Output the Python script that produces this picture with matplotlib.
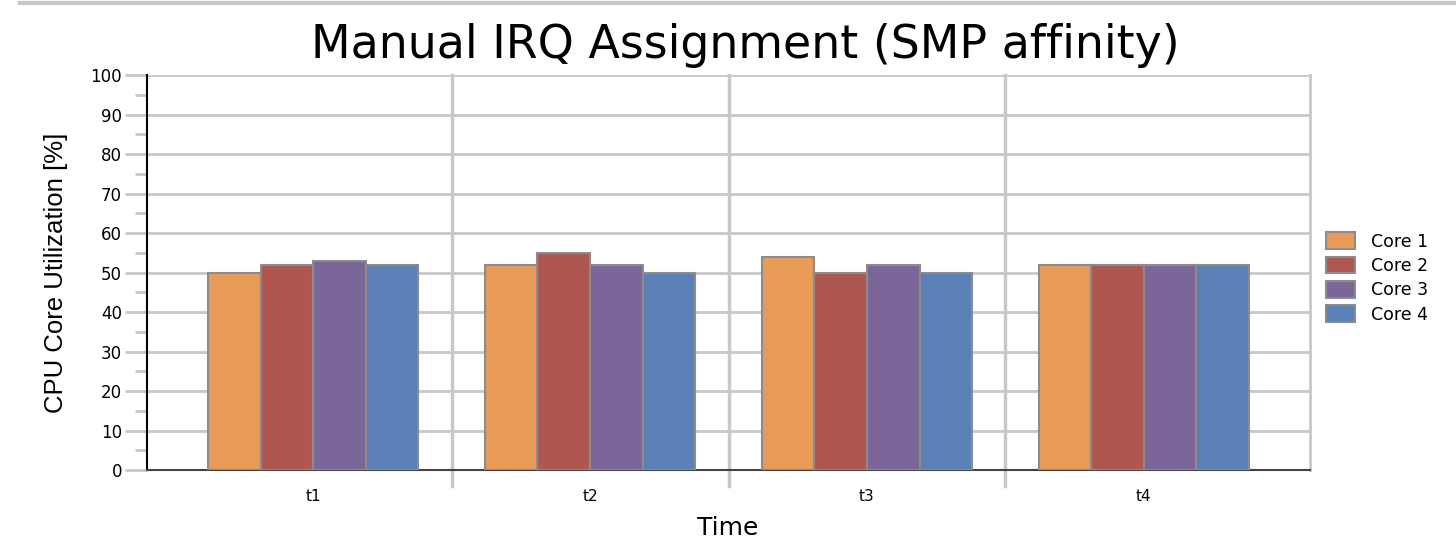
import numpy as np
import matplotlib
matplotlib.use("Agg")
from matplotlib import pyplot as plt
from matplotlib.lines import Line2D

periods = ["t1", "t2", "t3", "t4"]
cores = ["Core 1", "Core 2", "Core 3", "Core 4"]
core1 = [50, 52, 54, 52]
core2 = [52, 55, 50, 52]
core3 = [53, 52, 52, 52]
core4 = [52, 50, 50, 52]
colors = ["#e89a56", "#b05650", "#7b6699", "#5b80b6"]

fig = plt.figure(figsize=(14.56, 5.4), dpi=100)
ax = fig.add_axes([0.101, 0.1296, 0.7987, 0.7315])

x = np.arange(len(periods))
width = 0.19
for i, (vals, name) in enumerate(zip([core1, core2, core3, core4], cores)):
    ax.bar(x + (i - 1.5) * width, vals, width, color=colors[i], edgecolor="#8c8c8c",
           linewidth=1.5, label=name, zorder=3)

ax.set_xlim(-0.6, 3.6)
ax.set_ylim(0, 100)
ax.set_yticks(np.arange(0, 101, 10))
ax.set_yticks(np.arange(5, 100, 10), minor=True)
ax.set_xticks(x)
ax.set_xticklabels(periods, fontsize=11)
ax.tick_params(axis="x", length=0, pad=14)
ax.tick_params(axis="y", which="major", length=16, width=2, color="#c8c8c8", labelsize=12, pad=2)
ax.tick_params(axis="y", which="minor", length=8.5, width=2, color="#c8c8c8")

ax.grid(axis="y", color="#c8c8c8", linewidth=2, zorder=0)
# separators between time slots, running a little below the axis
for b in [0.5, 1.5, 2.5]:
    ax.axvline(b, ymin=-0.04, ymax=1, color="#c8c8c8", linewidth=2.5, clip_on=False, zorder=1)

ax.spines["top"].set_visible(False)
ax.spines["right"].set_color("#c8c8c8")
ax.spines["right"].set_linewidth(2)
ax.spines["left"].set_color("black")
ax.spines["left"].set_linewidth(1.5)
ax.spines["bottom"].set_color("#444444")
ax.spines["bottom"].set_linewidth(1.5)

ax.set_ylabel("CPU Core Utilization [%]", fontsize=18.5, family="Liberation Sans", labelpad=16)
fig.text(0.5, 0.022, "Time", fontsize=18, ha="center", va="center")
fig.text(0.512, 0.915, "Manual IRQ Assignment (SMP affinity)", fontsize=33, ha="center", va="center")

leg = ax.legend(loc="center left", bbox_to_anchor=(1.014, 0.486), frameon=False, fontsize=12.5,
                borderaxespad=0, borderpad=0, handlelength=1.65, handleheight=1.1,
                labelspacing=0.35, handletextpad=0.9)

fig.add_artist(Line2D([0.014, 1.0], [0.994, 0.994], color="#c8c8c8", linewidth=3))

fig.savefig("out.png", dpi=100)
